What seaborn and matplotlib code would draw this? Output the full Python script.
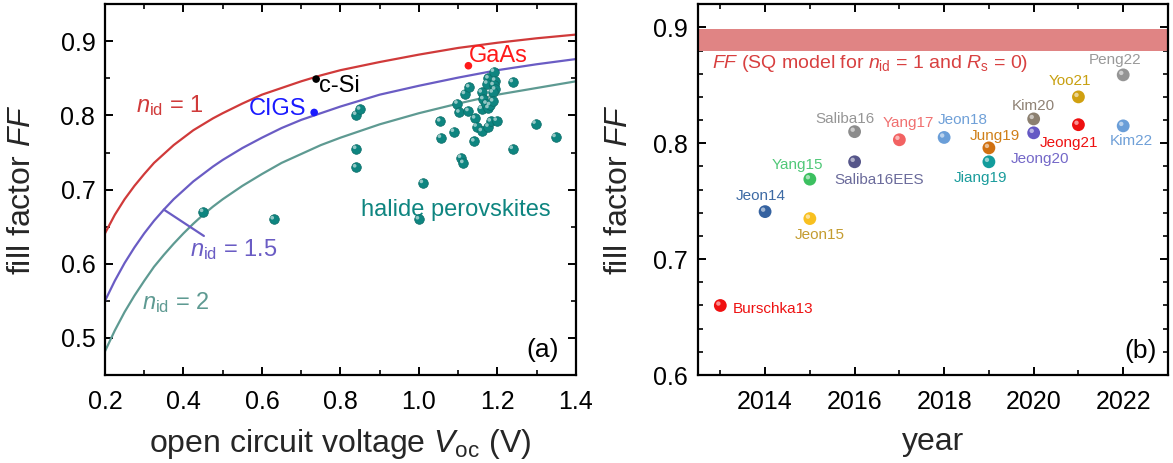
import matplotlib
matplotlib.use("Agg")
import matplotlib.pyplot as plt
import seaborn as sns
import pandas as pd
from matplotlib.ticker import MultipleLocator
from matplotlib.transforms import offset_copy

# === panel (a): FF limit curves for different ideality factors ===
voc_grid = [0.2, 0.225, 0.25, 0.275, 0.3, 0.325, 0.35, 0.375, 0.4, 0.425, 0.45, 0.475,
            0.5, 0.55, 0.6, 0.65, 0.7, 0.75, 0.8, 0.9, 1.0, 1.1, 1.2, 1.3, 1.4]
ff_n1 = [0.641, 0.666, 0.687, 0.705, 0.721, 0.736, 0.748, 0.760, 0.770, 0.780, 0.788, 0.796,
         0.803, 0.816, 0.828, 0.837, 0.846, 0.854, 0.861, 0.872, 0.882, 0.891, 0.898, 0.904, 0.909]
ff_n15 = [0.550, 0.577, 0.601, 0.622, 0.641, 0.658, 0.673, 0.687, 0.699, 0.711, 0.721, 0.731,
          0.740, 0.756, 0.770, 0.783, 0.794, 0.803, 0.812, 0.828, 0.840, 0.851, 0.861, 0.869, 0.876]
ff_n2 = [0.482, 0.510, 0.535, 0.557, 0.577, 0.596, 0.612, 0.627, 0.641, 0.654, 0.666, 0.677,
         0.687, 0.705, 0.721, 0.736, 0.748, 0.760, 0.770, 0.788, 0.803, 0.816, 0.828, 0.837, 0.846]

# reference technologies
ref_names = ["c-Si", "CIGS", "GaAs"]
ref_voc = [0.738, 0.733, 1.126]
ref_ff = [0.849, 0.804, 0.867]

# halide perovskite cells
pvk_voc = [0.45, 0.63, 0.84, 0.85, 0.84, 0.84, 1.01, 1.00, 1.054, 1.056, 1.089,
           1.098, 1.103, 1.107, 1.113, 1.117, 1.128, 1.126, 1.143, 1.147, 1.141,
           1.160, 1.160, 1.164, 1.160, 1.172, 1.177, 1.177, 1.177, 1.181, 1.174,
           1.191, 1.194, 1.190, 1.194, 1.188, 1.189, 1.183, 1.198, 1.239, 1.239,
           1.297, 1.348]
pvk_ff = [0.670, 0.660, 0.801, 0.808, 0.755, 0.730, 0.709, 0.660, 0.792, 0.770, 0.778,
          0.816, 0.804, 0.743, 0.736, 0.829, 0.838, 0.806, 0.796, 0.785, 0.765,
          0.779, 0.831, 0.822, 0.809, 0.816, 0.850, 0.785, 0.810, 0.814, 0.843,
          0.859, 0.847, 0.841, 0.835, 0.831, 0.819, 0.792, 0.793, 0.845, 0.755,
          0.789, 0.771]

# === panel (b): FF of record cells by year ===
study_names = ["Burschka13", "Jeon14", "Yang15", "Jeon15", "Saliba16", "Saliba16EES",
               "Yang17", "Jeon18", "Jung19", "Jiang19", "Kim20", "Jeong20",
               "Yoo21", "Jeong21", "Peng22", "Kim22"]
study_year = [2013, 2014, 2015, 2015, 2016, 2016, 2017, 2018, 2019, 2019, 2020, 2020,
              2021, 2021, 2022, 2022]
study_ff = [0.660, 0.741, 0.769, 0.735, 0.810, 0.784, 0.803, 0.805, 0.796, 0.784,
            0.821, 0.809, 0.840, 0.816, 0.859, 0.815]
sq_ff_low, sq_ff_high = 0.880, 0.8985

# colours / label placement (pixels offset from the marker)
study_colors = ["#f01010", "#3562a0", "#3cc060", "#f8c020", "#8c8c8c", "#56568a",
                "#f26262", "#6a9ed8", "#d07010", "#129c9c", "#8c8070", "#6458c4",
                "#d0a010", "#ee1010", "#959595", "#6a9ed8"]
label_colors = ["#ee1111", "#3d6aa4", "#50c878", "#c49c30", "#969696", "#6b6b9b",
                "#f07070", "#6fa0d8", "#d0801a", "#1a9c9c", "#8f8275", "#7468c8",
                "#c8a010", "#ee1111", "#999999", "#6fa0d8"]
label_offsets = [(12, -4), (-4, 16), (-12, 14), (10, -16), (-10, 13), (25, -18),
                 (9, 17), (19, 17), (6, 12), (-8, -16), (0, 13), (6, -26),
                 (-9, 16), (-9, -18), (-8, 15), (8, -15)]

sns.set_theme(style="ticks")
plt.rcParams.update({
    "font.family": ["Liberation Sans", "DejaVu Sans"],
    "mathtext.fontset": "custom",
    "mathtext.rm": "Liberation Sans",
    "mathtext.it": "Liberation Sans:italic",
    "axes.linewidth": 1.6,
    "axes.edgecolor": "black",
    "xtick.direction": "in",
    "ytick.direction": "in",
    "xtick.major.size": 6,
    "ytick.major.size": 6,
    "xtick.minor.size": 3.5,
    "ytick.minor.size": 3.5,
    "xtick.major.width": 1.4,
    "ytick.major.width": 1.4,
    "xtick.minor.width": 1.2,
    "ytick.minor.width": 1.2,
    "xtick.labelsize": 18,
    "ytick.labelsize": 18,
    "xtick.color": "black",
    "ytick.color": "black",
})

fig = plt.figure(figsize=(11.73, 4.63), dpi=100)
axA = fig.add_axes([0.0895, 0.190, 0.4015, 0.801])
axB = fig.add_axes([0.595, 0.190, 0.4007, 0.801])

# --- panel (a) ---
curve_cols = {"1": "#d03a3a", "1.5": "#6a5cc4", "2": "#5e9a92"}
curves = pd.DataFrame({
    "Voc": voc_grid * 3,
    "FF": ff_n1 + ff_n15 + ff_n2,
    "n": ["1"] * len(voc_grid) + ["1.5"] * len(voc_grid) + ["2"] * len(voc_grid),
})
sns.lineplot(data=curves, x="Voc", y="FF", hue="n", palette=curve_cols,
             sort=False, estimator=None, linewidth=1.6, legend=False, ax=axA)

pvk_col = "#0e8580"
sns.scatterplot(x=pvk_voc, y=pvk_ff, color=pvk_col, s=48, edgecolor="#0a6b66",
                linewidth=0.5, ax=axA, zorder=4)
hl = offset_copy(axA.transData, fig=fig, x=-1.1, y=1.1, units="points")
axA.scatter(pvk_voc, pvk_ff, s=7, color="white", alpha=0.55, edgecolors="none",
            transform=hl, zorder=5)

ref_cols = ["black", "#1a1aff", "#ff1a1a"]
sns.scatterplot(x=ref_voc, y=ref_ff, hue=ref_names, palette=dict(zip(ref_names, ref_cols)),
                s=30, edgecolor="none", legend=False, ax=axA, zorder=4)

axA.text(ref_voc[0] + 0.008, ref_ff[0] - 0.010, "c-Si", fontsize=17, color="black",
         ha="left", va="center")
axA.text(ref_voc[1] - 0.021, ref_ff[1] + 0.005, "CIGS", fontsize=17, color="#1a1aff",
         ha="right", va="center")
axA.text(ref_voc[2] + 0.001, ref_ff[2] + 0.013, "GaAs", fontsize=17, color="#ff1a1a",
         ha="left", va="center")

axA.text(0.366, 0.813, r"$n_{\mathrm{id}}$ = 1", fontsize=17, color=curve_cols["1"],
         ha="center", va="center")
axA.text(0.527, 0.619, r"$n_{\mathrm{id}}$ = 1.5", fontsize=17, color=curve_cols["1.5"],
         ha="center", va="center")
axA.text(0.38, 0.548, r"$n_{\mathrm{id}}$ = 2", fontsize=17, color=curve_cols["2"],
         ha="center", va="center")
i35 = voc_grid.index(0.35)
axA.annotate("", xy=(voc_grid[i35], ff_n15[i35]), xytext=(0.452, 0.6375),
             arrowprops=dict(arrowstyle="-", color=curve_cols["1.5"], lw=1.6,
                             shrinkA=0, shrinkB=0))
axA.text(1.095, 0.672, "halide perovskites", fontsize=17, color=pvk_col,
         ha="center", va="center")
axA.text(1.315, 0.484, "(a)", fontsize=19, color="black", ha="center", va="center")

axA.set_xlim(0.2, 1.4)
axA.set_ylim(0.45, 0.95)
axA.xaxis.set_major_locator(MultipleLocator(0.2))
axA.xaxis.set_minor_locator(MultipleLocator(0.1))
axA.yaxis.set_major_locator(MultipleLocator(0.1))
axA.yaxis.set_minor_locator(MultipleLocator(0.05))
axA.set_xlabel(r"open circuit voltage $V_{\mathrm{oc}}$ (V)", fontsize=23, labelpad=9)
axA.set_ylabel(r"fill factor $FF$", fontsize=23, labelpad=17)

# --- panel (b) ---
axB.axhspan(sq_ff_low, sq_ff_high, color="#e08484", lw=0, zorder=1)
axB.text(2012.82, 0.8684,
         r"$FF$ (SQ model for $n_{\mathrm{id}}$ = 1 and $R_{\mathrm{s}}$ = 0)",
         fontsize=14, color="#d84040", ha="left", va="center")

sns.scatterplot(x=study_year, y=study_ff, hue=study_names,
                palette=dict(zip(study_names, study_colors)), s=85,
                edgecolor="none", legend=False, ax=axB, zorder=4)
hlB = offset_copy(axB.transData, fig=fig, x=-1.4, y=1.4, units="points")
axB.scatter(study_year, study_ff, s=10, color="white", alpha=0.55, edgecolors="none",
            transform=hlB, zorder=5)

for name, yr, ff, col, off in zip(study_names, study_year, study_ff, label_colors,
                                  label_offsets):
    ha = "left" if name == "Burschka13" else "center"
    axB.annotate(name, xy=(yr, ff), xytext=off, textcoords="offset pixels",
                 fontsize=11, color=col, ha=ha, va="center")

axB.text(2022.39, 0.621, "(b)", fontsize=19, color="black", ha="center", va="center")

axB.set_xlim(2012.5, 2023)
axB.set_ylim(0.6, 0.92)
axB.xaxis.set_major_locator(MultipleLocator(2))
axB.xaxis.set_minor_locator(MultipleLocator(1))
axB.yaxis.set_major_locator(MultipleLocator(0.1))
axB.yaxis.set_minor_locator(MultipleLocator(0.02))
axB.set_xlabel("year", fontsize=23, labelpad=9)
axB.set_ylabel(r"fill factor $FF$", fontsize=23, labelpad=14)

for ax in (axA, axB):
    ax.tick_params(which="both", top=True, right=True, direction="in")
    ax.tick_params(axis="x", which="major", pad=11)
    ax.tick_params(axis="y", which="major", pad=7)
    for sp in ax.spines.values():
        sp.set_visible(True)
        sp.set_linewidth(1.6)
        sp.set_color("black")

fig.savefig("out.png", dpi=100)
